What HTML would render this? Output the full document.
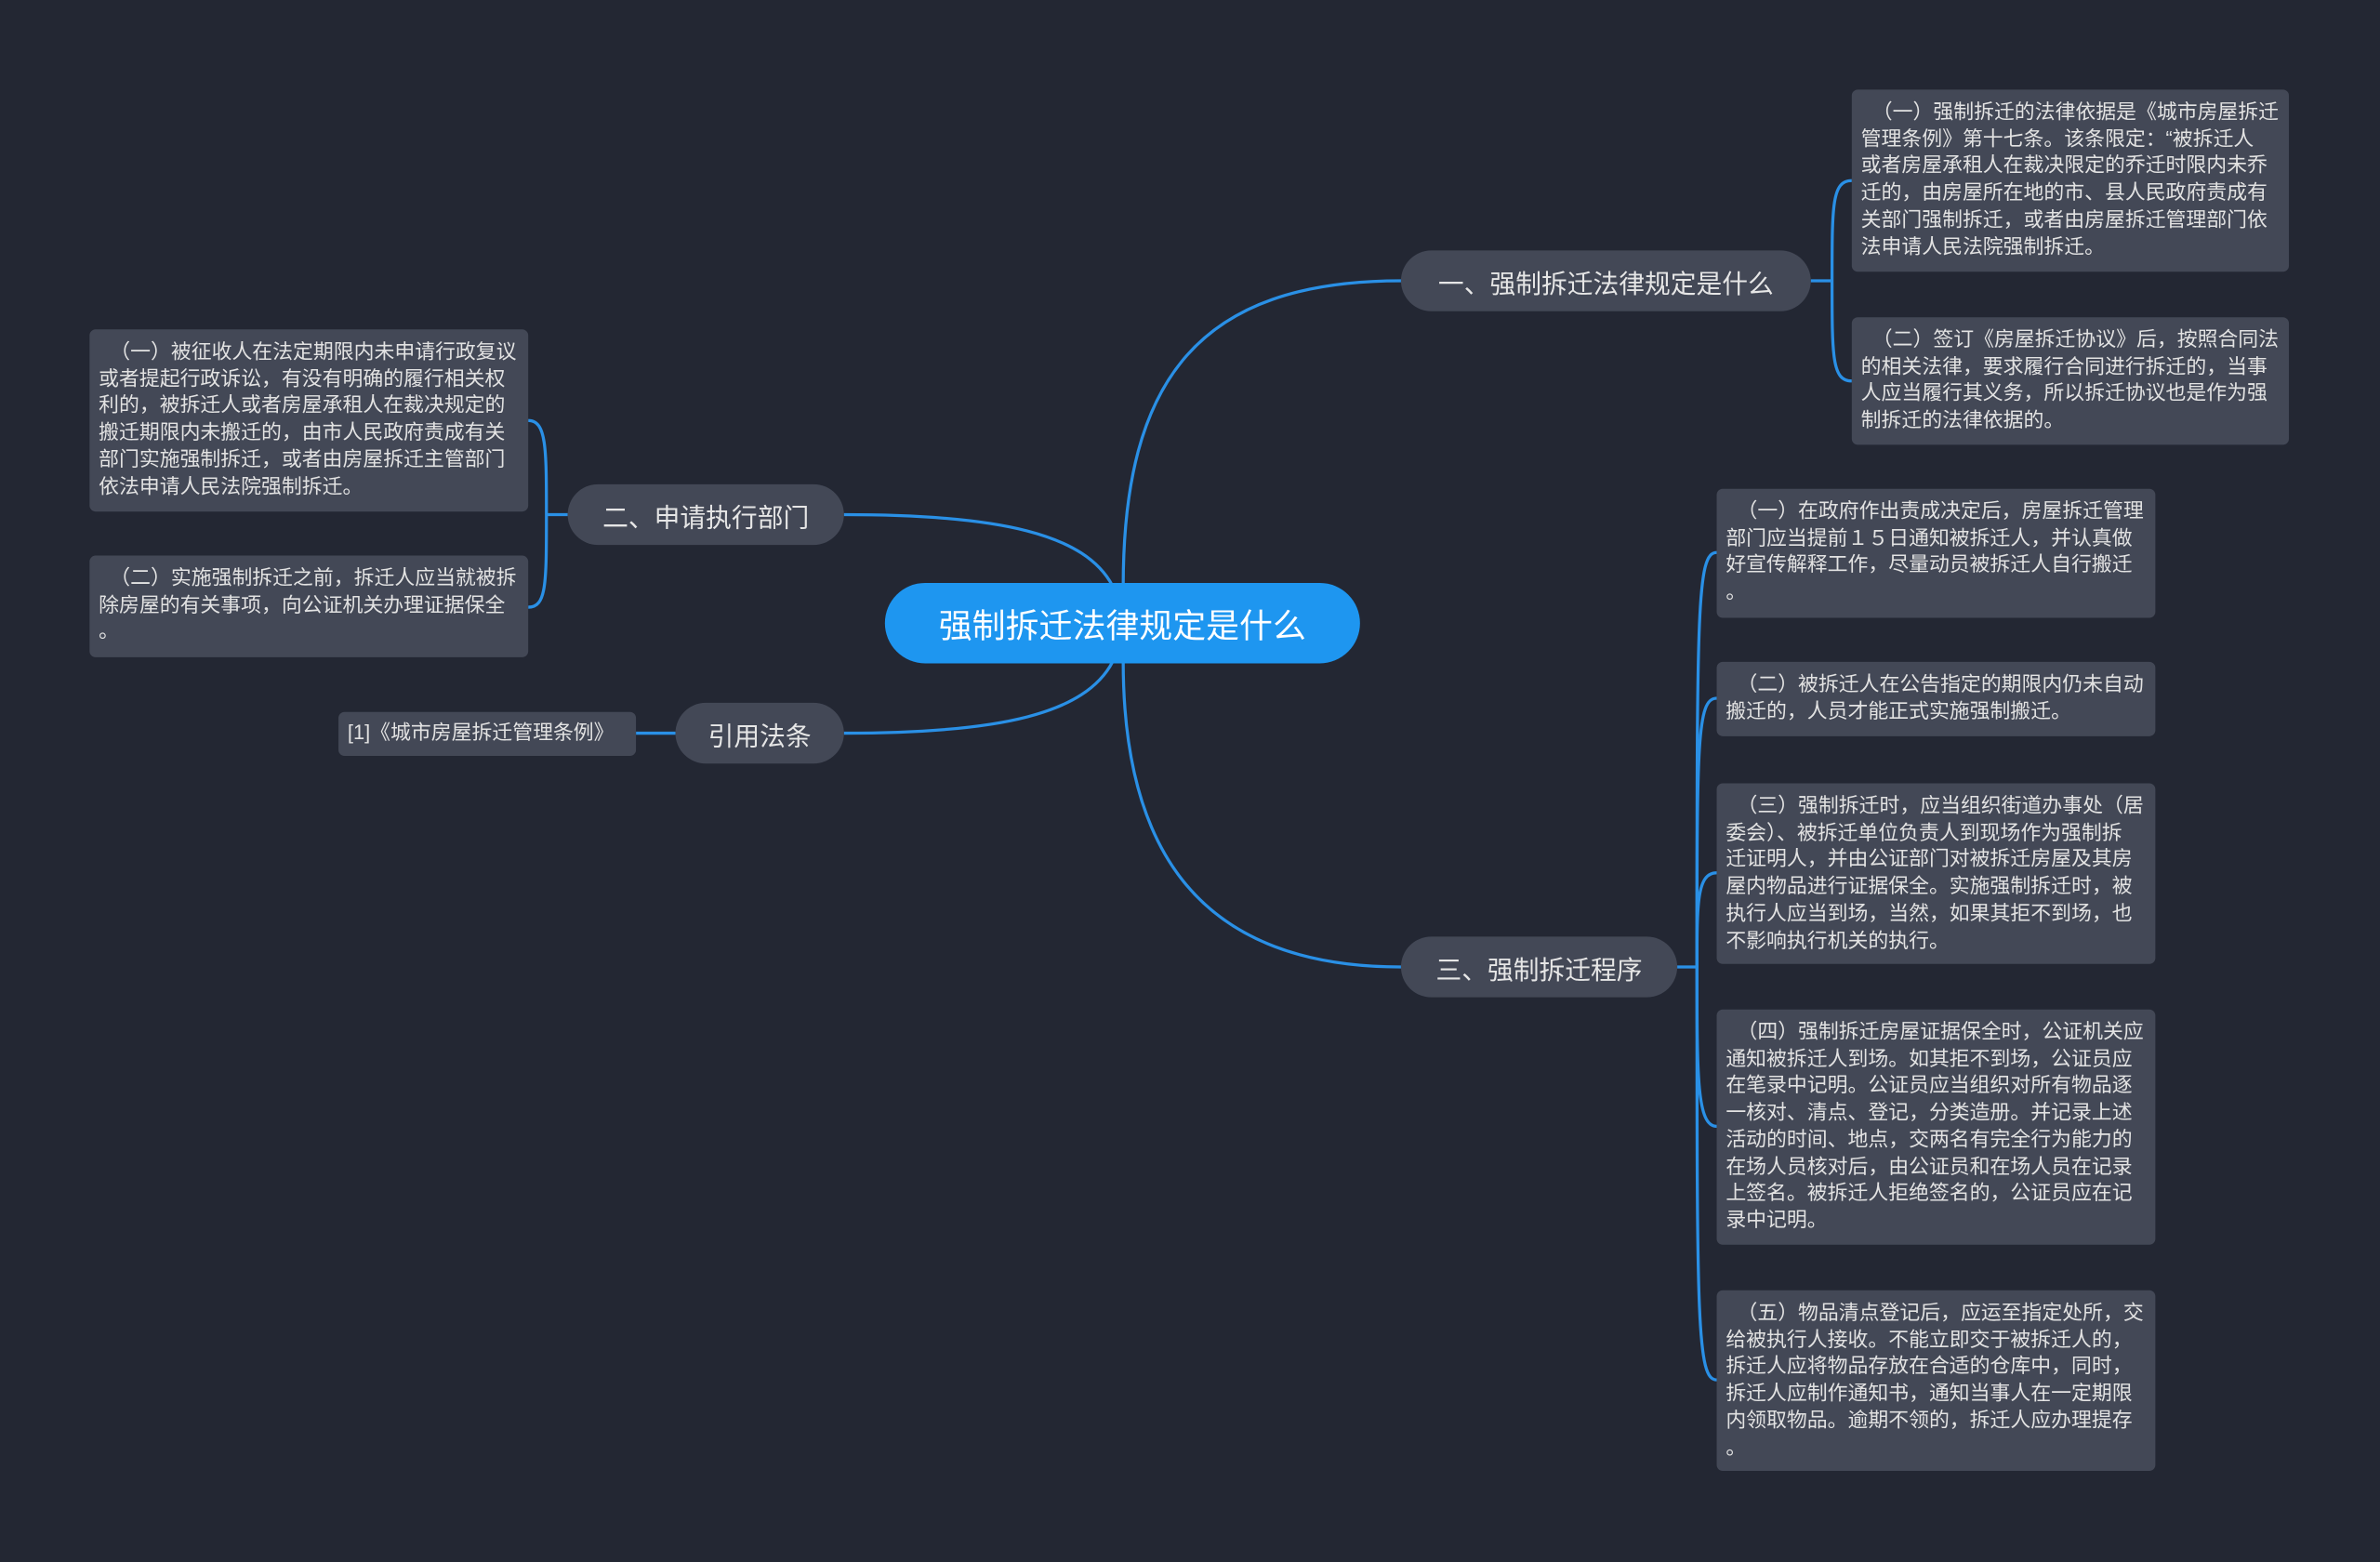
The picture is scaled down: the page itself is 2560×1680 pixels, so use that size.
<!DOCTYPE html>
<html><head><meta charset="utf-8">
<style>
html,body{margin:0;padding:0;background:#232733;width:2560px;height:1680px;overflow:hidden}
#w{position:absolute;left:0;top:0;width:1568px;height:1029px;transform:scale(1.63265,1.63265);transform-origin:0 0;font-family:"Liberation Sans","Noto Sans CJK SC",sans-serif}
.n{position:absolute;background:#434856;color:#e6e6e6;border-radius:20px;font-size:17px;display:flex;align-items:center;justify-content:center;white-space:nowrap}
.l{position:absolute;background:#434856;color:#e2e2e2;border-radius:4px;font-size:13.4px;line-height:17.7px;padding:6px 6px;box-sizing:border-box;white-space:nowrap;overflow:hidden}
svg{position:absolute;left:0;top:0}
</style></head><body><div id="w">
<svg width="1568" height="1029" fill="none" stroke="#2a90e6" stroke-width="2">
<path d="M740,386 C740,250 790,185 923,185"/>
<path d="M740,436 C740,560 790,637 923,637"/>
<path d="M733,386 C715,352 660,339 556,339"/>
<path d="M733,436 C715,470 660,483 556,483"/>
<path d="M1193,185 H1207"/>
<path d="M1207,185 C1207,135 1207,119 1220,119"/>
<path d="M1207,185 C1207,235 1207,251 1220,251"/>
<path d="M374,339 H360"/>
<path d="M360,339 C360,295 360,277 348,277"/>
<path d="M360,339 C360,385 360,400 348,400"/>
<path d="M419,483 H445"/>
<path d="M1105,637 H1118"/>
<path d="M1118,637 C1118,400 1118,364 1131,364"/>
<path d="M1118,637 C1118,490 1118,460 1131,460"/>
<path d="M1118,637 C1118,595 1118,575 1131,575"/>
<path d="M1118,637 C1118,710 1118,742 1131,742"/>
<path d="M1118,637 C1118,870 1118,909 1131,909"/>
</svg>
<div class="n" style="left:583px;top:384px;width:313px;height:53px;border-radius:27px;background:#1e96f0;color:#fff;font-size:22px">强制拆迁法律规定是什么</div>
<div class="n" style="left:923px;top:165px;width:270px;height:40px">一、强制拆迁法律规定是什么</div>
<div class="n" style="left:374px;top:319px;width:182px;height:40px">二、申请执行部门</div>
<div class="n" style="left:445px;top:463px;width:111px;height:40px">引用法条</div>
<div class="n" style="left:923px;top:617px;width:182px;height:40px">三、强制拆迁程序</div>
<div class="l" style="left:1220px;top:59px;width:288px;height:120px">&nbsp;&nbsp;（一）强制拆迁的法律依据是《城市房屋拆迁<br>管理条例》第十七条。该条限定：“被拆迁人<br>或者房屋承租人在裁决限定的乔迁时限内未乔<br>迁的，由房屋所在地的市、县人民政府责成有<br>关部门强制拆迁，或者由房屋拆迁管理部门依<br>法申请人民法院强制拆迁。</div>
<div class="l" style="left:1220px;top:209px;width:288px;height:84px">&nbsp;&nbsp;（二）签订《房屋拆迁协议》后，按照合同法<br>的相关法律，要求履行合同进行拆迁的，当事<br>人应当履行其义务，所以拆迁协议也是作为强<br>制拆迁的法律依据的。</div>
<div class="l" style="left:59px;top:217px;width:289px;height:120px">&nbsp;&nbsp;（一）被征收人在法定期限内未申请行政复议<br>或者提起行政诉讼，有没有明确的履行相关权<br>利的，被拆迁人或者房屋承租人在裁决规定的<br>搬迁期限内未搬迁的，由市人民政府责成有关<br>部门实施强制拆迁，或者由房屋拆迁主管部门<br>依法申请人民法院强制拆迁。</div>
<div class="l" style="left:59px;top:366px;width:289px;height:67px">&nbsp;&nbsp;（二）实施强制拆迁之前，拆迁人应当就被拆<br>除房屋的有关事项，向公证机关办理证据保全<br>。</div>
<div class="l" style="left:223px;top:469px;width:196px;height:29px;padding-top:5px">[1]《城市房屋拆迁管理条例》</div>
<div class="l" style="left:1131px;top:322px;width:289px;height:85px">&nbsp;&nbsp;（一）在政府作出责成决定后，房屋拆迁管理<br>部门应当提前１５日通知被拆迁人，并认真做<br>好宣传解释工作，尽量动员被拆迁人自行搬迁<br>。</div>
<div class="l" style="left:1131px;top:436px;width:289px;height:49px">&nbsp;&nbsp;（二）被拆迁人在公告指定的期限内仍未自动<br>搬迁的，人员才能正式实施强制搬迁。</div>
<div class="l" style="left:1131px;top:516px;width:289px;height:119px">&nbsp;&nbsp;（三）强制拆迁时，应当组织街道办事处（居<br>委会）、被拆迁单位负责人到现场作为强制拆<br>迁证明人，并由公证部门对被拆迁房屋及其房<br>屋内物品进行证据保全。实施强制拆迁时，被<br>执行人应当到场，当然，如果其拒不到场，也<br>不影响执行机关的执行。</div>
<div class="l" style="left:1131px;top:665px;width:289px;height:155px">&nbsp;&nbsp;（四）强制拆迁房屋证据保全时，公证机关应<br>通知被拆迁人到场。如其拒不到场，公证员应<br>在笔录中记明。公证员应当组织对所有物品逐<br>一核对、清点、登记，分类造册。并记录上述<br>活动的时间、地点，交两名有完全行为能力的<br>在场人员核对后，由公证员和在场人员在记录<br>上签名。被拆迁人拒绝签名的，公证员应在记<br>录中记明。</div>
<div class="l" style="left:1131px;top:850px;width:289px;height:119px">&nbsp;&nbsp;（五）物品清点登记后，应运至指定处所，交<br>给被执行人接收。不能立即交于被拆迁人的，<br>拆迁人应将物品存放在合适的仓库中，同时，<br>拆迁人应制作通知书，通知当事人在一定期限<br>内领取物品。逾期不领的，拆迁人应办理提存<br>。</div>
</div></body></html>
